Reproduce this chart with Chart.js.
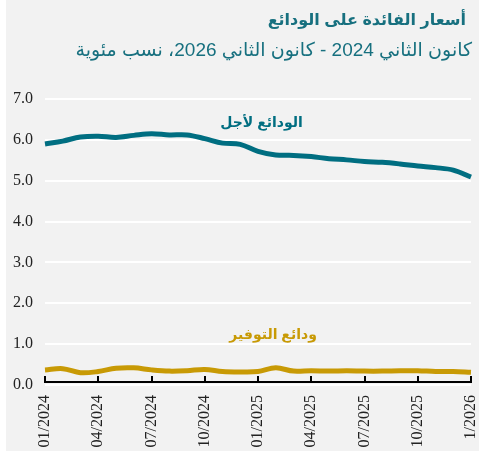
<!DOCTYPE html>
<html>
<head>
<meta charset="utf-8">
<script src="https://cdn.jsdelivr.net/npm/chart.js@4"></script>
<style>
  html, body { margin: 0; padding: 0; background: #ffffff; }
  #box { position: absolute; left: 6px; top: 0; width: 473px; height: 451px; background: #f2f2f2; }
  canvas { display: block; }
</style>
</head>
<body>
<div id="box"><canvas id="c" width="473" height="451"></canvas></div>
<script>
// ---- data ----
const categories = ['01/2024','02/2024','03/2024','04/2024','05/2024','06/2024','07/2024','08/2024','09/2024','10/2024','11/2024','12/2024',
                    '01/2025','02/2025','03/2025','04/2025','05/2025','06/2025','07/2025','08/2025','09/2025','10/2025','11/2025','12/2025','01/2026'];
const timeDeposits = [5.90, 5.97, 6.07, 6.09, 6.06, 6.11, 6.15, 6.12, 6.12, 6.03, 5.92, 5.89,
                      5.72, 5.63, 5.62, 5.59, 5.54, 5.51, 5.47, 5.45, 5.41, 5.36, 5.32, 5.26, 5.09];
const savingsDeposits = [0.37, 0.40, 0.30, 0.33, 0.41, 0.42, 0.37, 0.34, 0.35, 0.38, 0.33, 0.32,
                         0.33, 0.42, 0.34, 0.35, 0.34, 0.35, 0.34, 0.34, 0.35, 0.35, 0.33, 0.33, 0.31];
const tickLabels = ['01/2024','04/2024','07/2024','10/2024','01/2025','04/2025','07/2025','10/2025','1/2026'];
const tickEvery = 3;
const seriesNames = ['الودائع لأجل', 'ودائع التوفير'];
const titleText = 'أسعار الفائدة على الودائع';
const subtitleText = 'كانون الثاني 2024 - كانون الثاني 2026، نسب مئوية';

const TEAL = '#006e81';
const GOLD = '#c89a05';
const TITLE_COLOR = '#17707f';
const AR_FONT = '"Liberation Sans", "DejaVu Sans", sans-serif';

const seriesLabelPos = [
  { x: 12.2, y: 6.42, color: TEAL },
  { x: 12.85, y: 1.23, color: GOLD }
];

const decorPlugin = {
  id: 'decor',
  afterDatasetsDraw(chart) {
    const ctx = chart.ctx, xs = chart.scales.x, ys = chart.scales.y;
    const y0 = ys.getPixelForValue(0) - 3;
    ctx.save();
    ctx.strokeStyle = '#000';
    ctx.lineWidth = 2;
    ctx.beginPath();
    ctx.moveTo(xs.left, y0);
    ctx.lineTo(xs.right, y0);
    for (let i = 0; i < categories.length; i += tickEvery) {
      const px = Math.round(xs.getPixelForValue(i));
      ctx.moveTo(px, y0 + 1);
      ctx.lineTo(px, y0 - 6);
    }
    ctx.stroke();
    ctx.direction = 'rtl';
    ctx.textBaseline = 'middle';
    ctx.font = 'bold 14px ' + AR_FONT;
    ctx.textAlign = 'center';
    seriesNames.forEach((name, i) => {
      const p = seriesLabelPos[i];
      ctx.fillStyle = p.color;
      ctx.fillText(name, xs.getPixelForValue(p.x), ys.getPixelForValue(p.y));
    });
    // title + subtitle
    ctx.fillStyle = TITLE_COLOR;
    ctx.textAlign = 'right';
    ctx.font = 'bold 16px ' + AR_FONT;
    ctx.fillText(titleText, chart.width - 13, 21);
    ctx.font = '19px ' + AR_FONT;
    ctx.fillText(subtitleText, chart.width - 7, 51);
    ctx.restore();
  }
};

new Chart(document.getElementById('c'), {
  type: 'line',
  data: {
    labels: categories,
    datasets: [
      { data: timeDeposits, borderColor: TEAL, borderWidth: 5, pointRadius: 0, tension: 0.35, fill: false },
      { data: savingsDeposits, borderColor: GOLD, borderWidth: 5, pointRadius: 0, tension: 0.35, fill: false }
    ]
  },
  options: {
    responsive: false,
    animation: false,
    devicePixelRatio: 1,
    layout: { padding: { left: 0, right: 8, top: 99, bottom: 4 } },
    plugins: {
      legend: { display: false },
      tooltip: { enabled: false },
      title: { display: false },
      subtitle: { display: false }
    },
    scales: {
      x: {
        grid: { display: false, drawTicks: false },
        border: { display: false },
        afterFit: s => { s.height = 62; s.paddingLeft = 0; s.paddingRight = 0; },
        ticks: {
          autoSkip: false, maxRotation: 90, minRotation: 90, padding: 10, color: '#222',
          font: { family: '"Liberation Serif", serif', size: 16 },
          callback: (v, i) => (i % tickEvery === 0 ? tickLabels[i / tickEvery] : null)
        }
      },
      y: {
        min: 0, max: 7,
        afterFit: s => { s.width = 39; s.paddingTop = 0; s.paddingBottom = 0; },
        grid: { color: '#ffffff', lineWidth: 2, drawTicks: false },
        border: { display: false },
        ticks: {
          stepSize: 1, padding: 12, color: '#222',
          font: { family: '"Liberation Serif", serif', size: 16 },
          callback: v => Number(v).toFixed(1)
        }
      }
    }
  },
  plugins: [decorPlugin]
});
</script>
</body>
</html>
